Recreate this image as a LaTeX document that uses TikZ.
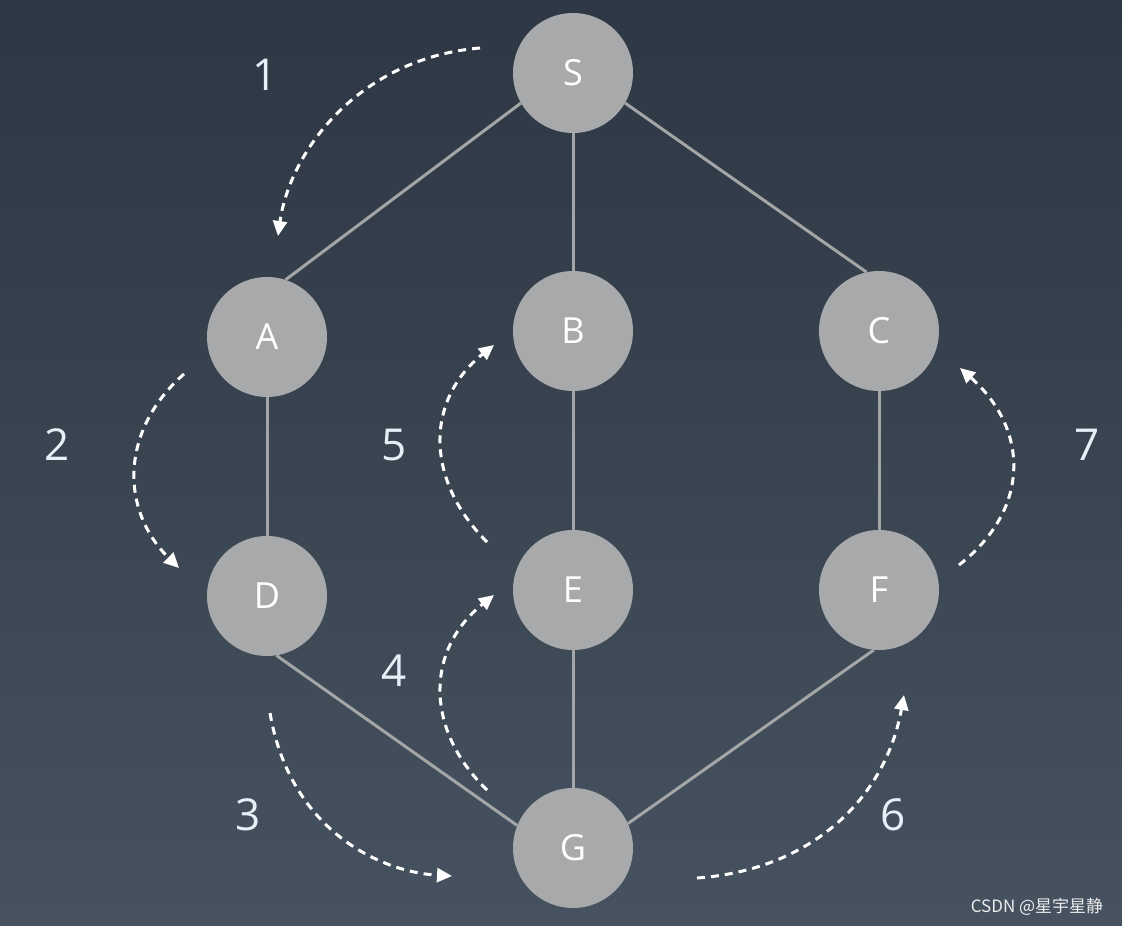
\documentclass[tikz,border=0pt]{standalone}
\usepackage{fontspec}
\setmainfont{Open Sans}
\newfontfamily\cjk{Noto Sans CJK SC}
\usepackage{tikz}
\usetikzlibrary{positioning, arrows.meta}
\definecolor{bgtop}{HTML}{2E3744}
\definecolor{bgbot}{HTML}{46525F}
\definecolor{vxgray}{HTML}{A7A9AB}
\definecolor{edgegray}{HTML}{A3A5A7}
\definecolor{numblue}{HTML}{E4F1F8}

\begin{document}
\begin{tikzpicture}[
  x=1pt, y=-1pt,
  vtx/.style={
    circle, fill=vxgray, minimum size=120pt, inner sep=0pt,
    text=white, font=\fontsize{36}{36}\selectfont
  },
  num/.style={text=numblue, font=\fontsize{44}{44}\selectfont},
  link/.style={draw=edgegray, line width=3pt},
  trav/.style={
    draw=white, line width=3pt, dash pattern=on 8pt off 6pt,
    -{Triangle[length=15pt, width=14pt]}
  },
]

% background
\useasboundingbox (0,0) rectangle (1122,926);
\shade[top color=bgtop, bottom color=bgbot] (0,0) rectangle (1122,926);

% vertices
\node[vtx] (S) at (573,73) {S};
\node[vtx] (A) at (267,337) {A};
\node[vtx] (B) at (573,331) {B};
\node[vtx] (C) at (879,331) {C};
\node[vtx] (D) at (267,596) {D};
\node[vtx] (E) at (573,590) {E};
\node[vtx] (F) at (879,590) {F};
\node[vtx] (G) at (573,848) {G};

% edges
\draw[link] (S.210) -- (A.72);
\draw[link] (S) -- (B);
\draw[link] (S.330) -- (C.102);
\draw[link] (A) -- (D);
\draw[link] (B) -- (E);
\draw[link] (C) -- (F);
\draw[link] (D.-81) -- (G.158);
\draw[link] (E) -- (G);
\draw[link] (F.-95) -- (G.24);

% step numbers
\node[num] (n1) at (265,75) {1};
\node[num] (n2) at (57,445) {2};
\node[num] (n3) at (248,815) {3};
\node[num] (n4) at (394,671) {4};
\node[num] (n5) at (394,445) {5};
\node[num] (n6) at (893,815) {6};
\node[num] (n7) at (1087,445) {7};

% traversal order
\coordinate (t1a) at (480,48);  \coordinate (t1b) at (278,236);
\coordinate (t2a) at (184,374); \coordinate (t2b) at (179,568);
\coordinate (t3a) at (270,713); \coordinate (t3b) at (452,876);
\coordinate (t4a) at (487,790); \coordinate (t4b) at (494,595);
\coordinate (t5a) at (487,542); \coordinate (t5b) at (494,345);
\coordinate (t6a) at (697,878); \coordinate (t6b) at (904,695);
\coordinate (t7a) at (959,565); \coordinate (t7b) at (960,368);
\draw[trav] (t1a) .. controls (360,58) and (290,150) .. (t1b);
\draw[trav] (t2a) .. controls (120,430) and (120,510) .. (t2b);
\draw[trav] (t3a) .. controls (290,830) and (380,872) .. (t3b);
\draw[trav] (t4a) .. controls (425,730) and (425,650) .. (t4b);
\draw[trav] (t5a) .. controls (425,480) and (425,400) .. (t5b);
\draw[trav] (t6a) .. controls (810,870) and (885,800) .. (t6b);
\draw[trav] (t7a) .. controls (1030,510) and (1030,430) .. (t7b);

% watermark
\node[text=white!85!gray, font=\cjk\fontsize{17}{17}\selectfont] (wm) at (1037,907) {CSDN @星宇星静};

\end{tikzpicture}
\end{document}
